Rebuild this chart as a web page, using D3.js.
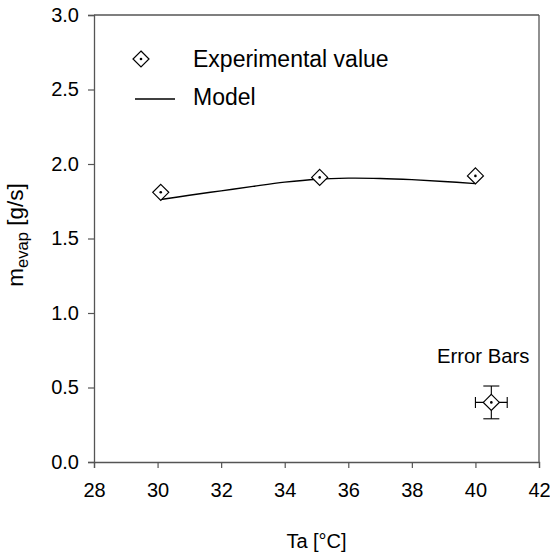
<!DOCTYPE html>
<html>
<head>
<meta charset="utf-8">
<script src="https://cdn.jsdelivr.net/npm/d3@7"></script>
<style>
  html, body { margin: 0; padding: 0; background: #fff; }
  svg { display: block; font-family: Arial, "Liberation Sans", Helvetica, sans-serif; }
</style>
</head>
<body>
<svg id="chart" width="550" height="556"></svg>
<script>
// Measured evaporation rate vs. ambient temperature
const expTemps = [30.1, 35.1, 40.0];
const expValues = [1.81, 1.91, 1.92];

// Model prediction
const modelTemps = [30.1, 31, 32, 33, 34, 35, 36, 37, 38, 39, 40];
const modelValues = [1.762, 1.79, 1.82, 1.85, 1.878, 1.898, 1.905, 1.903, 1.895, 1.883, 1.868];

// Sample error bar shown in the corner
const errPoint = [40.5, 0.4];
const errX = 0.5;
const errY = 0.11;

const xTicks = [28, 30, 32, 34, 36, 38, 40, 42];
const yTicks = [0.0, 0.5, 1.0, 1.5, 2.0, 2.5, 3.0];

const svg = d3.select("#chart");
const plotL = 94, plotR = 539, plotT = 15, plotB = 462;
const axisColor = "#555";

const x = d3.scaleLinear().domain([28, 42]).range([plotL, plotR]);
const y = d3.scaleLinear().domain([0, 3]).range([plotB, plotT]);

// Axes
const xAxis = svg.append("g")
  .attr("transform", `translate(0,${plotB})`)
  .call(d3.axisBottom(x).tickValues(xTicks).tickFormat(d3.format("d")).tickSize(6).tickPadding(15));
const yAxis = svg.append("g")
  .attr("transform", `translate(${plotL},0)`)
  .call(d3.axisLeft(y).tickValues(yTicks).tickFormat(d3.format(".1f")).tickSize(6).tickPadding(9));

[xAxis, yAxis].forEach(g => {
  g.select(".domain").attr("stroke", axisColor).attr("stroke-width", 1.3);
  g.selectAll(".tick line").attr("stroke", axisColor).attr("stroke-width", 1.2);
  g.selectAll(".tick text").attr("fill", "#000").style("font-size", "20px");
});

// Frame: top and right edges
svg.append("line").attr("x1", plotL).attr("x2", plotR).attr("y1", plotT).attr("y2", plotT)
  .attr("stroke", axisColor).attr("stroke-width", 1.3);
svg.append("line").attr("x1", plotR).attr("x2", plotR).attr("y1", plotT).attr("y2", plotB)
  .attr("stroke", axisColor).attr("stroke-width", 1.3);

// Axis titles
svg.append("text")
  .attr("x", (plotL + plotR) / 2).attr("y", 548)
  .attr("text-anchor", "middle").style("font-size", "20px")
  .text("Ta [°C]");

const yt = svg.append("text")
  .attr("transform", `translate(23,235) rotate(-90)`)
  .attr("text-anchor", "middle").style("font-size", "22.5px");
yt.append("tspan").text("m");
yt.append("tspan").attr("dy", 5).style("font-size", "16.5px").text("evap");
yt.append("tspan").attr("dy", -5).text(" [g/s]");

// Diamond marker with centre dot
const half = 8;
function diamond(g, cx, cy) {
  g.append("path")
    .attr("d", `M${cx},${cy - half}L${cx + half},${cy}L${cx},${cy + half}L${cx - half},${cy}Z`)
    .attr("fill", "#fff").attr("stroke", "#000").attr("stroke-width", 1.2);
  g.append("circle").attr("cx", cx).attr("cy", cy).attr("r", 1.3).attr("fill", "#000");
}

// Model curve
const line = d3.line().x(d => x(d[0])).y(d => y(d[1])).curve(d3.curveCatmullRom);
svg.append("path")
  .datum(modelTemps.map((t, i) => [t, modelValues[i]]))
  .attr("d", line)
  .attr("fill", "none").attr("stroke", "#000").attr("stroke-width", 1.4);

// Experimental points
const pts = svg.append("g");
expTemps.forEach((t, i) => diamond(pts, x(t), y(expValues[i])));

// Error bar sample
const eb = svg.append("g").attr("stroke", "#000").attr("stroke-width", 1.1);
const ex = x(errPoint[0]), ey = y(errPoint[1]);
const x0 = x(errPoint[0] - errX), x1 = x(errPoint[0] + errX);
const y0 = y(errPoint[1] + errY), y1 = y(errPoint[1] - errY);
eb.append("line").attr("x1", x0).attr("x2", x1).attr("y1", ey).attr("y2", ey);
eb.append("line").attr("x1", ex).attr("x2", ex).attr("y1", y0).attr("y2", y1);
eb.append("line").attr("x1", x0).attr("x2", x0).attr("y1", ey - 5.5).attr("y2", ey + 5.5);
eb.append("line").attr("x1", x1).attr("x2", x1).attr("y1", ey - 5.5).attr("y2", ey + 5.5);
eb.append("line").attr("x1", ex - 8).attr("x2", ex + 8).attr("y1", y0).attr("y2", y0);
eb.append("line").attr("x1", ex - 8).attr("x2", ex + 8).attr("y1", y1).attr("y2", y1);
diamond(svg.append("g"), ex, ey);
svg.append("text").attr("x", 437).attr("y", 363)
  .style("font-size", "20.3px").text("Error Bars");

// Legend
const lg = svg.append("g");
diamond(lg, 141, 59);
lg.append("text").attr("x", 193).attr("y", 66.5).style("font-size", "23px").text("Experimental value");
lg.append("line").attr("x1", 135).attr("x2", 175).attr("y1", 99).attr("y2", 99)
  .attr("stroke", "#000").attr("stroke-width", 1.4);
lg.append("text").attr("x", 193).attr("y", 105).style("font-size", "23px").text("Model");
</script>
</body>
</html>
